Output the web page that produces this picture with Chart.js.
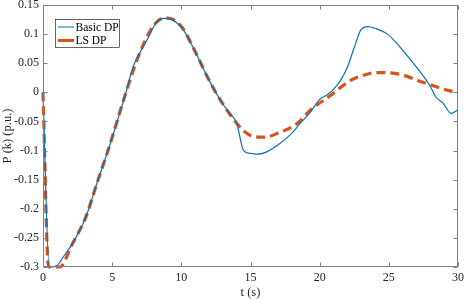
<!DOCTYPE html>
<html>
<head>
<meta charset="utf-8">
<script src="https://cdn.jsdelivr.net/npm/chart.js@4.4.1/dist/chart.umd.min.js"></script>
<style>
    html, body { margin: 0; padding: 0; background: #fff; }
    #wrap { width: 464px; height: 300px; position: relative; }
</style>
</head>
<body>
<div id="wrap"><canvas id="dpChart"></canvas></div>
<script>
// time axis (s) and power values (p.u.)
const tBasic = [0, 0.45, 1.0, 1.4, 2.15, 3.1, 3.9, 4.7, 5.3, 6.0, 6.5, 7.0, 7.5, 8.2, 8.8, 9.4, 10.1, 11.0, 12.0, 13.0, 13.5, 14.0, 14.5, 15.0, 15.5, 16.0, 17.0, 18.0, 18.6, 19.3, 20.0, 20.5, 21.0, 21.5, 22.0, 22.5, 23.0, 23.5, 24.0, 24.9, 25.8, 26.6, 27.5, 28.0, 28.4, 28.9, 29.5, 30.0];
const pBasic = [0, -0.3, -0.298, -0.285, -0.259, -0.214, -0.156, -0.1, -0.055, 0, 0.043, 0.068, 0.089, 0.12, 0.127, 0.124, 0.109, 0.07, 0.021, -0.02, -0.036, -0.053, -0.1, -0.105, -0.106, -0.104, -0.09, -0.07, -0.053, -0.035, -0.012, -0.005, 0.005, 0.02, 0.043, 0.077, 0.108, 0.113, 0.11, 0.1, 0.078, 0.055, 0.028, 0.01, -0.008, -0.018, -0.036, -0.03];

const tLs = [0, 0.4, 1.2, 2.15, 3.1, 3.9, 4.7, 6.0, 7.0, 8.0, 8.8, 9.5, 10.1, 11.0, 12.0, 13.0, 14.0, 14.5, 15.0, 16.0, 17.0, 18.4, 19.3, 20.8, 22.2, 23.0, 24.1, 25.8, 27.5, 29.5, 30.0];
const pLs = [0, -0.3, -0.3, -0.259, -0.214, -0.156, -0.1, 0, 0.068, 0.115, 0.128, 0.124, 0.11, 0.07, 0.021, -0.02, -0.053, -0.066, -0.074, -0.077, -0.07, -0.053, -0.031, -0.005, 0.02, 0.028, 0.034, 0.031, 0.017, 0.002, 0];

const seriesNames = ['Basic DP', 'LS DP'];
const xTitle = 't (s)';
const yTitle = 'P (k) (p.u.)';

const BLUE = '#0072BD';
const ORANGE = '#D95319';
const AXIS = '#808080';
const TEXT = '#262626';
const FONT = '"Liberation Serif"';

function toPoints(xs, ys) {
    return xs.map((x, i) => ({ x: x, y: ys[i] }));
}

// box round the plot area with inward tick marks on all four sides
const framePlugin = {
    id: 'frame',
    afterDatasetsDraw(chart) {
        const { ctx, chartArea: a, scales } = chart;
        const L = Math.round(a.left) + 0.5, R = Math.round(a.right) - 0.5;
        const T = Math.round(a.top) + 0.5, B = Math.round(a.bottom) - 0.5;
        ctx.save();
        ctx.strokeStyle = AXIS;
        ctx.lineWidth = 1;
        ctx.strokeRect(L, T, R - L, B - T);
        ctx.beginPath();
        scales.x.ticks.forEach(t => {
            const px = Math.round(scales.x.getPixelForValue(t.value)) + 0.5;
            ctx.moveTo(px, B); ctx.lineTo(px, B - 4);
            ctx.moveTo(px, T); ctx.lineTo(px, T + 4);
        });
        scales.y.ticks.forEach(t => {
            const py = Math.round(scales.y.getPixelForValue(t.value)) + 0.5;
            ctx.moveTo(L, py); ctx.lineTo(L + 4, py);
            ctx.moveTo(R, py); ctx.lineTo(R - 4, py);
        });
        ctx.stroke();
        ctx.restore();
    }
};

// matlab style legend box inside the plot
const legendPlugin = {
    id: 'boxLegend',
    afterDraw(chart) {
        const { ctx } = chart;
        const x0 = 55.5, y0 = 19.5, w = 64, h = 28;
        ctx.save();
        ctx.fillStyle = '#fff';
        ctx.fillRect(x0, y0, w, h);
        ctx.strokeStyle = '#000';
        ctx.lineWidth = 0.6;
        ctx.strokeRect(x0, y0, w, h);
        const rows = [
            { y: 27, color: BLUE, width: 1 },
            { y: 40.5, color: ORANGE, width: 3 }
        ];
        ctx.font = '11.5px ' + FONT;
        ctx.textBaseline = 'middle';
        rows.forEach((r, i) => {
            ctx.strokeStyle = r.color;
            ctx.lineWidth = r.width;
            ctx.beginPath();
            ctx.moveTo(58, r.y);
            ctx.lineTo(74, r.y);
            ctx.stroke();
            ctx.fillStyle = '#000';
            ctx.fillText(seriesNames[i], 75.5, r.y + 0.5);
        });
        ctx.restore();
    }
};

new Chart(document.getElementById('dpChart'), {
    type: 'line',
    data: {
        datasets: [{
            label: seriesNames[0],
            data: toPoints(tBasic, pBasic),
            borderColor: BLUE,
            borderWidth: 1.2,
            pointRadius: 0,
            clip: 2,
            cubicInterpolationMode: 'monotone',
            fill: false
        }, {
            label: seriesNames[1],
            data: toPoints(tLs, pLs),
            borderColor: ORANGE,
            borderWidth: 3.2,
            borderDash: [9, 5],
            pointRadius: 0,
            clip: 2,
            cubicInterpolationMode: 'monotone',
            fill: false
        }]
    },
    options: {
        responsive: true,
        maintainAspectRatio: false,
        animation: false,
        devicePixelRatio: 1,
        layout: { padding: { top: 5, right: 6, left: 0, bottom: 0 } },
        plugins: {
            legend: { display: false },
            tooltip: { enabled: false }
        },
        scales: {
            x: {
                type: 'linear',
                min: 0,
                max: 30,
                border: { display: false },
                grid: { display: false, drawTicks: false },
                ticks: {
                    stepSize: 5,
                    color: TEXT,
                    padding: 4,
                    maxRotation: 0,
                    font: { family: FONT, size: 12 }
                },
                title: {
                    display: true,
                    text: xTitle,
                    color: TEXT,
                    padding: { top: 0, bottom: 0 },
                    font: { family: FONT, size: 12.5 }
                },
                afterFit(scale) {
                    scale.height = 33;
                    scale.paddingLeft = 0;
                    scale.paddingRight = 0;
                }
            },
            y: {
                min: -0.3,
                max: 0.15,
                border: { display: false },
                grid: { display: false, drawTicks: false },
                ticks: {
                    stepSize: 0.05,
                    color: TEXT,
                    padding: 4,
                    font: { family: FONT, size: 12 },
                    callback: function(value) { return parseFloat(value.toFixed(2)).toString(); }
                },
                title: {
                    display: true,
                    text: yTitle,
                    color: TEXT,
                    padding: { top: 0, bottom: 0 },
                    font: { family: FONT, size: 12.5 }
                },
                afterFit(scale) {
                    scale.width = 43;
                    scale.paddingTop = 0;
                    scale.paddingBottom = 0;
                }
            }
        }
    },
    plugins: [framePlugin, legendPlugin]
});
</script>
</body>
</html>
